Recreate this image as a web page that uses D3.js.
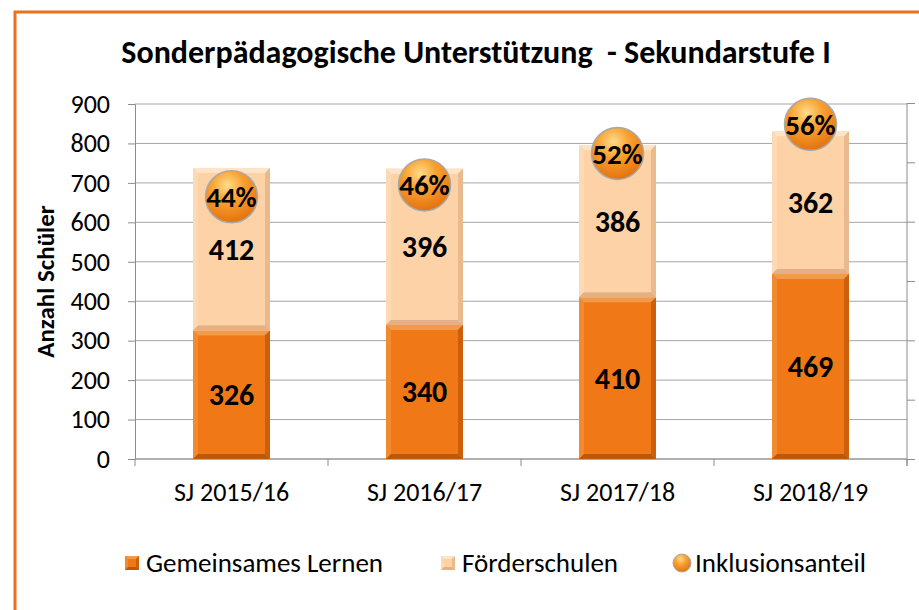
<!DOCTYPE html>
<html>
<head>
<meta charset="utf-8">
<script src="https://cdn.jsdelivr.net/npm/d3@7"></script>
<style>
  body { margin: 0; background: #fff; }
  svg text { font-family: Carlito, Calibri, "Liberation Sans Narrow", "Liberation Sans", sans-serif; }
</style>
</head>
<body>
<div id="chart"></div>
<script>
// data
const years = ["SJ 2015/16", "SJ 2016/17", "SJ 2017/18", "SJ 2018/19"];
const gemeinsam = [326, 340, 410, 469];
const foerder = [412, 396, 386, 362];
const anteil = [0.442, 0.462, 0.515, 0.564];
const anteilLabels = ["44%", "46%", "52%", "56%"];
const seriesNames = ["Gemeinsames Lernen", "Förderschulen", "Inklusionsanteil"];

const width = 919;
const height = 610;
const margin = { top: 104, right: 12, bottom: 151, left: 135 };

const svg = d3
  .select("#chart")
  .append("svg")
  .attr("width", width)
  .attr("height", height);

const defs = svg.append("defs");

// ball gradient
const ball = defs
  .append("radialGradient")
  .attr("id", "ball")
  .attr("cx", "42%")
  .attr("cy", "28%")
  .attr("r", "75%");
ball.append("stop").attr("offset", "0%").attr("stop-color", "#ffdc8c");
ball.append("stop").attr("offset", "40%").attr("stop-color", "#f9a232");
ball.append("stop").attr("offset", "100%").attr("stop-color", "#e36f0c");

// frame
svg
  .append("rect")
  .attr("x", 15)
  .attr("y", 12)
  .attr("width", 960)
  .attr("height", 660)
  .attr("fill", "#fff")
  .attr("stroke", "#e8731a")
  .attr("stroke-width", 3);

// title
svg
  .append("text")
  .attr("x", 476)
  .attr("y", 63)
  .attr("text-anchor", "middle")
  .style("font-size", "32px")
  .style("font-weight", "bold")
  .style("white-space", "pre")
  .text("Sonderpädagogische Unterstützung  - Sekundarstufe I");

const x = d3
  .scaleBand()
  .domain(years)
  .range([margin.left, width - margin.right]);

const y = d3
  .scaleLinear()
  .domain([0, 900])
  .range([height - margin.bottom, margin.top]);

const y2 = d3
  .scaleLinear()
  .domain([0, 0.6])
  .range([height - margin.bottom, margin.top - 1]);

// gridlines
svg
  .append("g")
  .selectAll("line")
  .data(y.ticks(9))
  .join("line")
  .attr("x1", margin.left)
  .attr("x2", width - margin.right)
  .attr("y1", (d) => y(d))
  .attr("y2", (d) => y(d))
  .attr("stroke", "#a6a6a6")
  .attr("stroke-width", 1);

// left axis
const yAxis = svg
  .append("g")
  .attr("transform", `translate(${margin.left},0)`)
  .call(d3.axisLeft(y).ticks(9).tickSize(7).tickPadding(18));
yAxis.select(".domain").attr("stroke", "#8c8c8c");
yAxis.selectAll(".tick line").attr("stroke", "#8c8c8c");
yAxis
  .selectAll("text")
  .style("font-size", "26px")
  .attr("fill", "#000");

// right axis (percent, labels outside the picture)
const y2Axis = svg
  .append("g")
  .attr("transform", `translate(${width - margin.right},0)`)
  .call(d3.axisRight(y2).ticks(6).tickSize(8).tickFormat(""));
y2Axis.select(".domain").attr("stroke", "#8c8c8c").attr("d", `M0,${y2(0.6)}V${y2(0) + 7}`);
y2Axis.selectAll(".tick line").attr("stroke", "#8c8c8c");

// x axis
const xAxis = svg
  .append("g")
  .attr("transform", `translate(0,${height - margin.bottom})`)
  .call(d3.axisBottom(x).tickSize(0).tickPadding(24));
xAxis.select(".domain").attr("stroke", "#8c8c8c").attr("d", `M${margin.left},0H${width - margin.right}`);
xAxis
  .selectAll("text")
  .style("font-size", "26px")
  .attr("fill", "#000");
// category separators
svg
  .append("g")
  .selectAll("line")
  .data(years.concat(["end"]))
  .join("line")
  .attr("x1", (d, i) => margin.left + i * x.step())
  .attr("x2", (d, i) => margin.left + i * x.step())
  .attr("y1", height - margin.bottom)
  .attr("y2", height - margin.bottom + 7)
  .attr("stroke", "#8c8c8c");

// y axis title
svg
  .append("text")
  .attr("transform", `translate(54,${(y(0) + y(900)) / 2}) rotate(-90)`)
  .attr("text-anchor", "middle")
  .style("font-size", "25px")
  .style("font-weight", "bold")
  .text("Anzahl Schüler");

// bars with a bevel look
const barW = 77;
function bevelRect(g, x0, y0, w, h, c, bw = 5) {
  const b = Math.min(bw, h / 2);
  g.append("rect")
    .attr("x", x0)
    .attr("y", y0)
    .attr("width", w)
    .attr("height", h)
    .attr("fill", c.base);
  g.append("polygon")
    .attr("points", [[x0, y0], [x0 + w, y0], [x0 + w - b, y0 + b], [x0 + b, y0 + b]].join(" "))
    .attr("fill", c.top);
  g.append("polygon")
    .attr("points", [[x0, y0], [x0 + b, y0 + b], [x0 + b, y0 + h - b], [x0, y0 + h]].join(" "))
    .attr("fill", c.left);
  g.append("polygon")
    .attr("points", [[x0 + w, y0], [x0 + w, y0 + h], [x0 + w - b, y0 + h - b], [x0 + w - b, y0 + b]].join(" "))
    .attr("fill", c.right);
  g.append("polygon")
    .attr("points", [[x0, y0 + h], [x0 + w, y0 + h], [x0 + w - b, y0 + h - b], [x0 + b, y0 + h - b]].join(" "))
    .attr("fill", c.bottom);
}
const darkC = { base: "#f07816", top: "#f39a48", left: "#f28a30", right: "#cc5f0c", bottom: "#bd580b" };
const lightC = { base: "#fcd2a6", top: "#fde4c8", left: "#fddab4", right: "#e9ba8e", bottom: "#e4b084" };

const bars = svg.append("g");
years.forEach((yr, i) => {
  const cx = x(yr) + x.bandwidth() / 2;
  const x0 = cx - barW / 2;
  bevelRect(bars, x0, y(gemeinsam[i]), barW, y(0) - y(gemeinsam[i]), darkC);
  bevelRect(
    bars,
    x0,
    y(gemeinsam[i] + foerder[i]),
    barW,
    y(gemeinsam[i]) - y(gemeinsam[i] + foerder[i]),
    lightC
  );
});

// value labels
const labels = svg.append("g").style("font-size", "30px").style("font-weight", "bold");
labels
  .selectAll(".lg")
  .data(gemeinsam)
  .join("text")
  .attr("class", "lg")
  .attr("x", (d, i) => x(years[i]) + x.bandwidth() / 2)
  .attr("y", (d) => y(d / 2))
  .attr("dy", "0.35em")
  .attr("text-anchor", "middle")
  .text((d) => d);
labels
  .selectAll(".lf")
  .data(foerder)
  .join("text")
  .attr("class", "lf")
  .attr("x", (d, i) => x(years[i]) + x.bandwidth() / 2)
  .attr("y", (d, i) => y(gemeinsam[i] + d / 2))
  .attr("dy", "0.35em")
  .attr("text-anchor", "middle")
  .text((d) => d);

// inclusion share markers
const balls = svg.append("g");
balls
  .selectAll("circle")
  .data(anteil)
  .join("circle")
  .attr("cx", (d, i) => x(years[i]) + x.bandwidth() / 2)
  .attr("cy", (d) => y2(d))
  .attr("r", 26)
  .attr("fill", "url(#ball)")
  .attr("stroke", "#a8a8a8")
  .attr("stroke-width", 1.5);
balls
  .selectAll("text")
  .data(anteil)
  .join("text")
  .attr("x", (d, i) => x(years[i]) + x.bandwidth() / 2)
  .attr("y", (d) => y2(d))
  .attr("dy", "0.35em")
  .attr("text-anchor", "middle")
  .style("font-size", "29px")
  .style("font-weight", "bold")
  .text((d, i) => anteilLabels[i]);

// legend
const legend = svg.append("g").style("font-size", "27px");
const legX = [125, 441, 673];
seriesNames.forEach((name, i) => {
  const g = legend.append("g").attr("transform", `translate(${legX[i]},563)`);
  if (i < 2) {
    bevelRect(g, 0, -7, 14, 14, i === 0 ? darkC : lightC, 3);
  } else {
    g.append("circle")
      .attr("cx", 9)
      .attr("cy", 0)
      .attr("r", 9)
      .attr("fill", "url(#ball)")
      .attr("stroke", "#a8a8a8");
  }
  g.append("text")
    .attr("x", i < 2 ? 21 : 22)
    .attr("dy", "0.35em")
    .text(name);
});
</script>
</body>
</html>
